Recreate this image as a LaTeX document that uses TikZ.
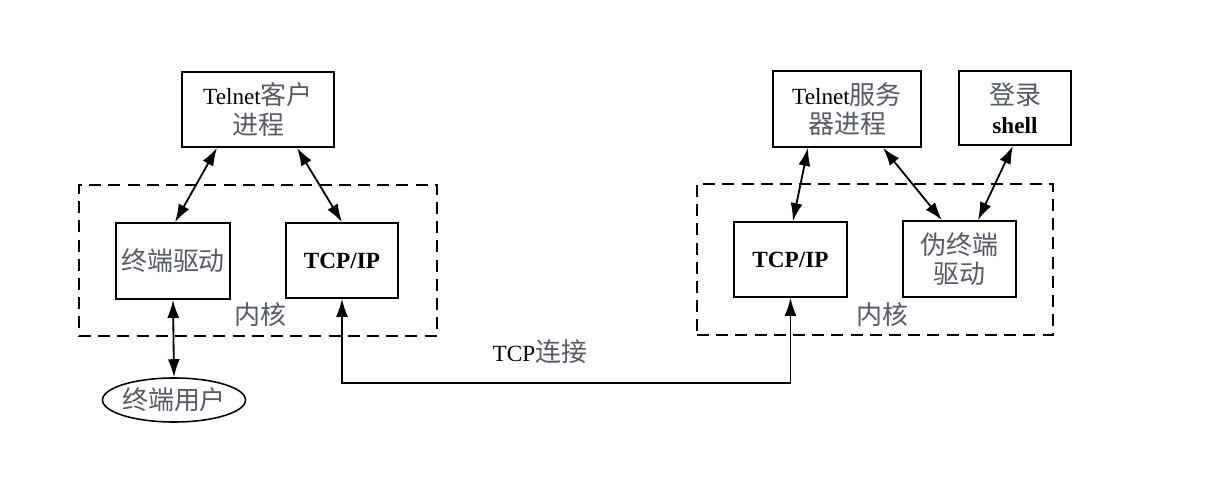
\documentclass[tikz,border=0pt]{standalone}
\usepackage{fontspec}
\setmainfont{Liberation Serif}
\newfontfamily\cjk[Scale=1.12]{Noto Sans CJK SC}
\usetikzlibrary{arrows.meta, shapes.geometric}
\definecolor{zhgray}{HTML}{555A64}
\newcommand{\zh}[1]{{\cjk\color{zhgray}#1}}
\tikzset{
  box/.style={draw, line width=1.2pt, align=center, minimum width=2.8cm, minimum height=1.875cm},
  kernel/.style={draw, line width=1.1pt, dash pattern=on 0.3cm off 0.18cm, minimum width=8.95cm, minimum height=3.775cm},
  link/.style={line width=1.3pt, {Latex[length=0.45cm,width=0.3cm]}-{Latex[length=0.45cm,width=0.3cm]}}
}
\begin{document}
\begin{tikzpicture}[x=0.025cm, y=-0.025cm, font=\fontsize{16.5}{21}\selectfont]
        \useasboundingbox (0,0) rectangle (1216,504);

        % Client side
        \node[kernel] (kernL) at (258,260.5) {};
        \node[box, minimum width=3.8cm] (client) at (258,109.5) {Telnet\zh{客户}\\\zh{进程}};
        \node[box, minimum height=1.9cm] (termdrv) at (173,261) {\zh{终端驱动}};
        \node[box] (tcpL) at (342,260.5) {\textbf{TCP/IP}};
        \node (kernLlabel) at (260,315) {\zh{内核}};
        \node[draw, ellipse, line width=1.1pt, minimum width=3.55cm, minimum height=1.1cm, inner sep=-1pt] (user) at (174,400) {\zh{终端用户}};

        % Server side
        \node[kernel, minimum width=8.9cm] (kernR) at (875,259.5) {};
        \node[box, minimum width=3.7cm, minimum height=1.9cm] (server) at (847,109) {Telnet\zh{服务}\\\zh{器进程}};
        \node[box, minimum height=1.85cm] (shell) at (1015,108) {\zh{登录}\\\textbf{shell}};
        \node[box, minimum width=2.825cm] (tcpR) at (790.5,259.5) {\textbf{TCP/IP}};
        \node[box, minimum width=2.825cm, minimum height=1.9cm] (ptydrv) at (959.5,259) {\zh{伪终端}\\\zh{驱动}};
        \node (kernRlabel) at (882,315) {\zh{内核}};

        % Connectors
        \draw[link] ([xshift=-1.025cm]client.south) -- ([xshift=0.05cm]termdrv.north);
        \draw[link] ([xshift=0.975cm]client.south) -- (tcpL.north);
        \draw[link] (termdrv.south) -- (user.north);
        \draw[link] ([xshift=-0.975cm]server.south) -- ([xshift=0.06cm]tcpR.north);
        \draw[link] ([xshift=0.9cm]server.south) -- ([xshift=-0.44cm]ptydrv.north);
        \draw[link] ([xshift=-0.05cm]shell.south) -- ([xshift=0.46cm]ptydrv.north);

        % TCP connection
        \coordinate (wire) at (560,383);
        \draw[link] (tcpL.south) |- (wire) -| (tcpR.south);
        \node (tcplabel) at (540,352) {TCP\zh{连接}};
\end{tikzpicture}
\end{document}
